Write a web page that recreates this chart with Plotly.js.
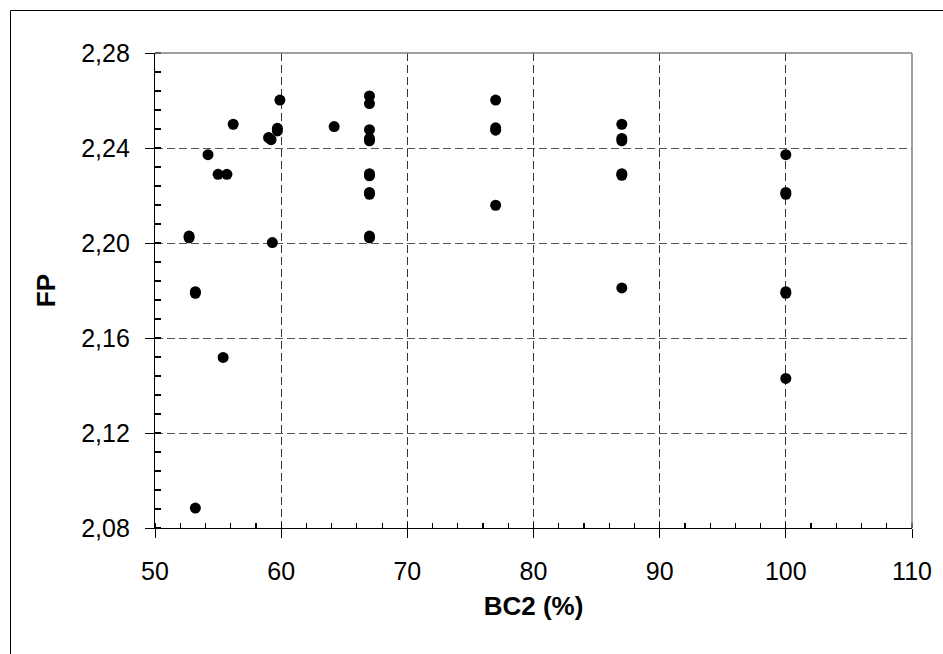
<!DOCTYPE html>
<html>
<head>
<meta charset="utf-8">
<script src="https://cdn.plot.ly/plotly-3.0.1.min.js"></script>
<style>
html,body{margin:0;padding:0;background:#fff;}
#chart{width:943px;height:654px;}
</style>
</head>
<body>
<div id="chart"></div>
<script>
// BC2 (%) values
var bc2 = [
  52.7, 52.7, 53.2, 53.2, 53.2, 54.2, 55.0, 55.7, 55.4, 56.2,
  59.0, 59.2, 59.3, 59.7, 59.7, 59.9, 64.2,
  67.0, 67.0, 67.0, 67.0, 67.0, 67.0, 67.0, 67.0, 67.0, 67.0, 67.0,
  77.0, 77.0, 77.0, 77.0,
  87.0, 87.0, 87.0, 87.0, 87.0, 87.0,
  100.0, 100.0, 100.0, 100.0, 100.0, 100.0
];
// FP values
var fp = [
  2.2029, 2.2022, 2.1795, 2.1788, 2.0884, 2.2372, 2.2289, 2.2289, 2.1518, 2.2500,
  2.2444, 2.2435, 2.2002, 2.2483, 2.2472, 2.2602, 2.2490,
  2.2619, 2.2587, 2.2477, 2.2440, 2.2430, 2.2292, 2.2283, 2.2213, 2.2205, 2.2029, 2.2022,
  2.2602, 2.2485, 2.2475, 2.2159,
  2.2500, 2.2440, 2.2430, 2.2292, 2.2285, 2.1811,
  2.2372, 2.2213, 2.2205, 2.1795, 2.1788, 2.1430
];
var xTitle = 'BC2 (%)';
var yTitle = 'FP';

var L = 155, R = 31, T = 53, B = 126;
var W = 943 - L - R, H = 654 - T - B;

var trace = {
  x: bc2, y: fp, type: 'scatter', mode: 'markers',
  marker: {color: '#000', size: 11, line: {width: 0}},
  hoverinfo: 'x+y', showlegend: false
};

var fontFam = 'Liberation Sans, Arial, sans-serif';
var layout = {
  width: 943, height: 654,
  margin: {l: L, r: R, t: T, b: B, pad: 0},
  paper_bgcolor: '#fff', plot_bgcolor: '#fff',
  separators: ',.',
  font: {family: fontFam, color: '#000', size: 25},
  xaxis: {
    range: [50, 110], dtick: 10, tick0: 50,
    showline: true, linecolor: '#000', linewidth: 1.2,
    ticks: 'outside', ticklen: 9, tickcolor: '#000', tickwidth: 1,
    ticklabelstandoff: 12,
    showgrid: true, gridcolor: '#333', gridwidth: 1, griddash: '8px,4px',
    zeroline: false,
    minor: {dtick: 2, tick0: 50, ticks: 'inside', ticklen: 5, tickcolor: '#000', tickwidth: 1.2, showgrid: false},
    tickfont: {size: 25, family: fontFam, color: '#000'},
    title: {text: xTitle, font: {size: 26, family: fontFam, color: '#000', weight: 'bold'}, standoff: 12}
  },
  yaxis: {
    range: [2.08, 2.28], dtick: 0.04, tick0: 2.08, tickformat: '.2f',
    showline: true, linecolor: '#000', linewidth: 1.2,
    ticks: 'outside', ticklen: 9, tickcolor: '#000', tickwidth: 1,
    ticklabelstandoff: 10,
    showgrid: true, gridcolor: '#555', gridwidth: 1, griddash: '8px,4px',
    zeroline: false,
    minor: {dtick: 0.008, tick0: 2.08, ticks: 'inside', ticklen: 6, tickcolor: '#000', tickwidth: 1.2, showgrid: false},
    tickfont: {size: 25, family: fontFam, color: '#000'},
    title: {text: yTitle, font: {size: 26, family: fontFam, color: '#000', weight: 'bold'}, standoff: 18}
  },
  shapes: [
    {type: 'line', xref: 'paper', yref: 'paper', x0: 0, x1: 1, y0: 1, y1: 1, line: {color: '#808080', width: 1.5}},
    {type: 'line', xref: 'paper', yref: 'paper', x0: 1, x1: 1, y0: 0, y1: 1, line: {color: '#808080', width: 1.5}},
    {type: 'rect', xref: 'paper', yref: 'paper',
     x0: (10.5 - L) / W, x1: (960 - L) / W, y0: -(680 - T - H) / H, y1: (654 - B - 10.5) / H,
     line: {color: '#000', width: 1}, fillcolor: 'rgba(0,0,0,0)', layer: 'below'}
  ]
};

Plotly.newPlot('chart', [trace], layout, {displayModeBar: false, staticPlot: true});
</script>
</body>
</html>
